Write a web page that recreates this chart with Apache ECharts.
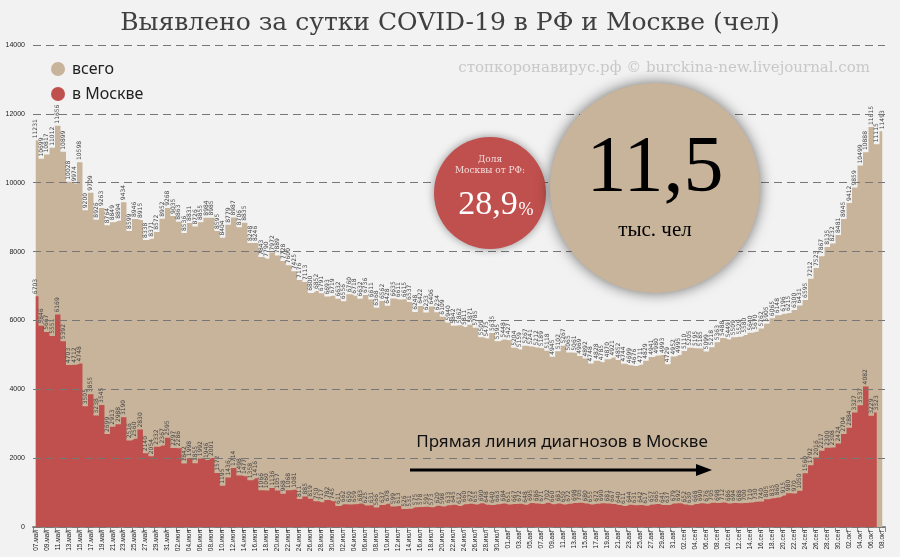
<!DOCTYPE html><html><head><meta charset="utf-8"><script src="https://cdn.jsdelivr.net/npm/echarts@6/dist/echarts.min.js"></script>
<style>html,body{margin:0;background:#f2f2f2}#c{width:900px;height:557px}</style></head><body><div id="c"></div><script>
const totals=[11231,10699,10817,11012,11656,10899,10028,9974,10598,9200,9709,8926,9263,8764,8849,8894,9434,8599,8946,8915,8338,8371,8572,8952,9268,9035,
8863,8536,8831,8726,8855,8984,8985,8595,8404,8779,8987,8706,8835,8248,8246,7843,7790,7972,7889,7728,7600,7425,7176,7113,6800,6852,6791,
6693,6719,6632,6556,6760,6718,6632,6736,6611,6368,6562,6428,6635,6611,6615,6537,6248,6422,6233,6406,6234,6109,5940,5842,5862,5811,
5871,5785,5509,5475,5635,5395,5448,5427,5204,5159,5267,5241,5212,5189,5118,4945,5102,5267,5065,5061,4969,4892,4748,4828,4785,
4870,4921,4852,4744,4699,4676,4711,4829,4941,4980,4993,4729,4952,4995,5110,5205,5195,5185,5099,5218,5363,5488,5449,5509,5529,5580,5640,
5670,5762,5905,6065,6148,6196,6215,6300,6431,6595,7212,7523,7867,8135,8232,8481,8945,9412,9859,10499,10888,11615,11115,11493];
const moscow=[6703,5846,5667,5551,6169,5392,4703,4712,4748,3505,3855,3238,3545,2699,2913,2988,3190,2516,2560,2830,2140,2054,2332,2367,2595,2297,2286,
1842,1998,1855,1992,1946,2001,1572,1195,1436,1714,1498,1477,1358,1416,1066,1060,1136,1057,968,1068,1081,811,885,819,750,717,
782,745,611,662,650,659,683,625,631,566,637,678,599,613,526,531,575,578,591,573,620,598,633,645,612,660,
672,655,690,648,640,663,684,651,667,672,648,695,686,671,702,660,681,650,672,698,705,680,655,672,690,
681,667,640,611,644,631,642,617,657,665,641,637,679,692,652,630,668,690,676,705,698,712,686,694,
688,700,710,730,740,805,835,860,915,980,970,1050,1560,1792,2016,2217,2300,2308,2424,2704,2884,3327,3537,4082,3229,3323];
const months=['май','июн','июл','авг','сен','окт'],mdays=[31,30,31,31,30,31];
const cats=[];let m=0,d=7;for(let i=0;i<totals.length;i++){cats.push(String(d).padStart(2,'0')+'.'+months[m]);d++;if(d>mdays[m]){d=1;m++;}}
const lbl={show:true,position:'top',rotate:90,align:'left',verticalAlign:'middle',fontSize:6,color:'#444',distance:2,fontFamily:'DejaVu Sans'};
const ch=echarts.init(document.getElementById('c'));
const Z=100;
ch.setOption({backgroundColor:'#f2f2f2',animation:false,
title:{text:'Выявлено за сутки COVID-19 в РФ и Москве (чел)',left:'center',top:6,textStyle:{fontFamily:'DejaVu Serif',fontSize:25,fontWeight:'normal',color:'#404040'}},
grid:{left:33,right:15,top:45,bottom:30},
xAxis:{type:'category',data:cats,boundaryGap:true,axisTick:{show:true,interval:1},axisLine:{lineStyle:{color:'#888',width:2}},axisLabel:{interval:1,rotate:90,fontSize:6.5,color:'#222',margin:3}},
yAxis:{type:'value',z:10,min:0,max:14000,interval:2000,axisLabel:{fontSize:7,color:'#222',formatter:v=>String(v)},splitLine:{lineStyle:{type:[8,5],color:'#777'}}},
series:[{type:'line',step:'middle',data:totals,symbol:'circle',symbolSize:0.1,showSymbol:true,lineStyle:{width:0},areaStyle:{color:'#c8b39b',opacity:1},label:lbl,z:2},
{type:'line',step:'middle',data:moscow,symbol:'circle',symbolSize:0.1,showSymbol:true,lineStyle:{width:0},areaStyle:{color:'#c0504d',opacity:1},label:lbl,z:3}],
graphic:[
{type:'circle',z:Z,shape:{cx:58,cy:69,r:7},style:{fill:'#c8b39b'}},
{type:'text',z:Z,style:{x:72,y:69,text:'всего',fontSize:16,fill:'#222',verticalAlign:'middle',fontFamily:'Noto Sans'}},
{type:'circle',z:Z,shape:{cx:58,cy:94,r:7},style:{fill:'#c0504d'}},
{type:'text',z:Z,style:{x:72,y:94,text:'в Москве',fontSize:16,fill:'#222',verticalAlign:'middle',fontFamily:'Noto Sans'}},
{type:'text',z:Z,style:{x:870,y:68,text:'стопкоронавирус.рф © burckina-new.livejournal.com',fontSize:15,fill:'#c8c8c8',align:'right',verticalAlign:'middle',fontFamily:'DejaVu Serif'}},
{type:'circle',z:Z,shape:{cx:490,cy:193,r:56},style:{fill:'#c0504d',shadowBlur:8,shadowColor:'rgba(0,0,0,0.4)'}},
{type:'text',z:Z,style:{x:490,y:165,text:'Доля\nМосквы от РФ:',fontSize:9,fill:'#f5dcdc',align:'center',verticalAlign:'middle',lineHeight:11,fontFamily:'DejaVu Serif'}},
{type:'text',z:Z,style:{x:488,y:205,text:'28,9',fontSize:34,fill:'#fff',align:'center',verticalAlign:'middle',fontFamily:'Liberation Serif'}},
{type:'text',z:Z,style:{x:526,y:210,text:'%',fontSize:18,fill:'#fff',align:'center',verticalAlign:'middle',fontFamily:'Liberation Serif'}},
{type:'circle',z:Z,shape:{cx:655,cy:188,r:105},style:{fill:'#c8b39b',shadowBlur:14,shadowColor:'rgba(0,0,0,0.55)'}},
{type:'text',z:Z,style:{x:655,y:170,text:'11,5',fontSize:80,fill:'#000',align:'center',verticalAlign:'middle',fontFamily:'Liberation Sans Narrow'}},
{type:'text',z:Z,style:{x:655,y:230,text:'тыс. чел',fontSize:21,fill:'#000',align:'center',verticalAlign:'middle',fontFamily:'Liberation Serif'}},
{type:'text',z:Z,style:{x:562,y:442,text:'Прямая линия диагнозов в Москве',fontSize:17,fill:'#111',align:'center',verticalAlign:'middle',fontFamily:'Noto Sans'}},
{type:'line',z:Z,shape:{x1:410,y1:470,x2:698,y2:470},style:{stroke:'#000',lineWidth:3}},
{type:'polygon',z:Z,shape:{points:[[712,470],[696,464],[696,476]]},style:{fill:'#000'}}
]});
</script></body></html>
